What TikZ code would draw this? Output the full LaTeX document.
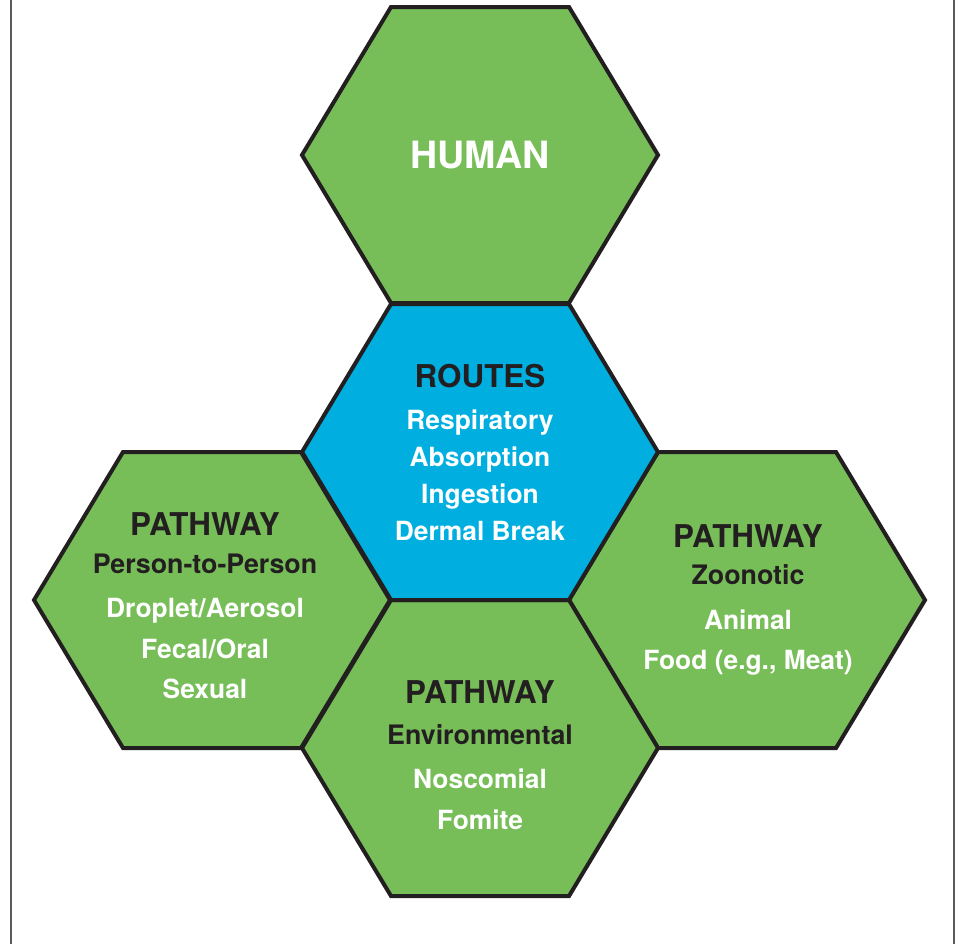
\documentclass[tikz,border=0pt]{standalone}
\usepackage{fontspec}
\setmainfont{TeX Gyre Heros}
\definecolor{cellgreen}{RGB}{119,190,89}
\definecolor{cellblue}{RGB}{0,174,224}
\definecolor{inkdark}{RGB}{35,31,32}
\definecolor{framegray}{RGB}{90,90,90}
% one flat-topped hexagon round a named centre
\newcommand{\hexcell}[2]{%
  \draw[cell, fill=#2] (#1) +(-178,0) -- +(-89,-148) -- +(89,-148)
    -- +(178,0) -- +(89,148) -- +(-89,148) -- cycle;}
\tikzset{
  cell/.style={draw=inkdark, line width=2pt, line join=miter},
  title/.style={anchor=base, text=white, font=\fontsize{18.8}{20}\selectfont\bfseries},
  head/.style={anchor=base, text=inkdark, font=\fontsize{15.7}{18}\selectfont\bfseries},
  sub/.style={anchor=base, text=inkdark, font=\fontsize{13.4}{15}\selectfont\bfseries},
  item/.style={anchor=base, text=white, font=\fontsize{13.2}{15}\selectfont\bfseries}
}
\begin{document}
\begin{tikzpicture}[x=0.5pt, y=-0.5pt]
  \useasboundingbox (0,0) rectangle (956,944);
  \draw[framegray, line width=1pt] (11,0) -- (11,944) (954,0) -- (954,944);

  \coordinate (human)  at (480,155);
  \coordinate (routes) at (480,452);
  \coordinate (person) at (212,600);
  \coordinate (zoo)    at (747,600);
  \coordinate (env)    at (480,748);

  \hexcell{human}{cellgreen}
  \hexcell{person}{cellgreen}
  \hexcell{zoo}{cellgreen}
  \hexcell{env}{cellgreen}
  \hexcell{routes}{cellblue}

  \node[title] (humanlbl) at (480,168) {HUMAN};

  \node[head] (routeshead) at (480,387.5) {ROUTES};
  \foreach \txt/\y [count=\i] in {Respiratory/429, Absorption/466,
      Ingestion/503, Dermal Break/540}
    \node[item] (route\i) at (480,\y) {\txt};

  \node[head] (personhead) at (205,535.5) {PATHWAY};
  \node[sub]  (personsub)  at (205,573.5) {Person-to-Person};
  \foreach \txt/\y [count=\i] in {{Droplet/Aerosol}/617, {Fecal/Oral}/658,
      Sexual/698}
    \node[item] (person\i) at (205,\y) {\txt};

  \node[head] (zoohead) at (748,547.5) {PATHWAY};
  \node[sub]  (zoosub)  at (748,584.5) {Zoonotic};
  \foreach \txt/\y [count=\i] in {Animal/629, {Food (e.g., Meat)}/669}
    \node[item] (zoo\i) at (748,\y) {\txt};

  \node[head] (envhead) at (480,703.5) {PATHWAY};
  \node[sub]  (envsub)  at (480,744.5) {Environmental};
  \foreach \txt/\y [count=\i] in {Noscomial/788, Fomite/829}
    \node[item] (env\i) at (480,\y) {\txt};
\end{tikzpicture}
\end{document}
